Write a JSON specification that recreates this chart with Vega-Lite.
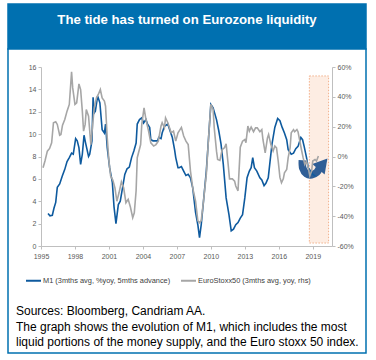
{
  "$schema": "https://vega.github.io/schema/vega-lite/v6.json",
  "background": "white",
  "padding": {"left": 7, "top": 3, "right": 0, "bottom": 0},
  "spacing": 0,
  "bounds": "flush",
  "config": {"font": "Liberation Sans", "view": {"stroke": null}},
  "datasets": {
    "m1": [
      {"year": 1995.62, "v": 2.9}, {"year": 1995.79, "v": 2.7}, {"year": 1996.0, "v": 2.75}, {"year": 1996.15, "v": 3.4},
      {"year": 1996.3, "v": 3.9}, {"year": 1996.44, "v": 5.25}, {"year": 1996.65, "v": 5.55}, {"year": 1996.88, "v": 6.25},
      {"year": 1997.1, "v": 6.85}, {"year": 1997.3, "v": 7.55}, {"year": 1997.5, "v": 7.9}, {"year": 1997.7, "v": 8.3},
      {"year": 1997.85, "v": 8.2}, {"year": 1998.06, "v": 9.6}, {"year": 1998.2, "v": 9.4}, {"year": 1998.35, "v": 8.8},
      {"year": 1998.5, "v": 7.3}, {"year": 1998.65, "v": 8.2}, {"year": 1998.8, "v": 9.9}, {"year": 1998.94, "v": 9.2},
      {"year": 1999.2, "v": 8.0}, {"year": 1999.3, "v": 8.2}, {"year": 1999.5, "v": 9.4}, {"year": 1999.6, "v": 13.3},
      {"year": 1999.7, "v": 11.9}, {"year": 1999.8, "v": 12.05}, {"year": 2000.0, "v": 13.4}, {"year": 2000.2, "v": 12.8},
      {"year": 2000.4, "v": 10.4}, {"year": 2000.6, "v": 10.1}, {"year": 2000.7, "v": 10.9}, {"year": 2000.85, "v": 8.8},
      {"year": 2001.06, "v": 7.0}, {"year": 2001.3, "v": 5.7}, {"year": 2001.45, "v": 3.5}, {"year": 2001.62, "v": 2.0},
      {"year": 2001.83, "v": 3.7}, {"year": 2002.0, "v": 4.0}, {"year": 2002.2, "v": 5.2}, {"year": 2002.4, "v": 6.4},
      {"year": 2002.6, "v": 6.9}, {"year": 2002.8, "v": 7.05}, {"year": 2003.0, "v": 7.9}, {"year": 2003.2, "v": 8.5},
      {"year": 2003.4, "v": 9.2}, {"year": 2003.5, "v": 10.9}, {"year": 2003.7, "v": 11.3}, {"year": 2003.9, "v": 11.45},
      {"year": 2004.06, "v": 11.0}, {"year": 2004.27, "v": 11.3}, {"year": 2004.4, "v": 10.9}, {"year": 2004.6, "v": 10.6},
      {"year": 2004.7, "v": 9.5}, {"year": 2004.9, "v": 9.4}, {"year": 2005.1, "v": 9.4}, {"year": 2005.3, "v": 9.4},
      {"year": 2005.4, "v": 9.7}, {"year": 2005.6, "v": 9.6}, {"year": 2005.7, "v": 10.1}, {"year": 2005.9, "v": 10.7},
      {"year": 2006.2, "v": 10.9}, {"year": 2006.3, "v": 10.6}, {"year": 2006.5, "v": 10.0}, {"year": 2006.6, "v": 9.7},
      {"year": 2006.8, "v": 8.6}, {"year": 2006.9, "v": 7.9}, {"year": 2007.1, "v": 7.0}, {"year": 2007.2, "v": 7.0},
      {"year": 2007.4, "v": 7.1}, {"year": 2007.6, "v": 6.7}, {"year": 2007.8, "v": 6.3}, {"year": 2008.0, "v": 6.4},
      {"year": 2008.2, "v": 6.1}, {"year": 2008.4, "v": 5.2}, {"year": 2008.65, "v": 3.0}, {"year": 2008.85, "v": 1.9},
      {"year": 2009.0, "v": 0.75}, {"year": 2009.15, "v": 1.9}, {"year": 2009.35, "v": 4.0}, {"year": 2009.6, "v": 6.7},
      {"year": 2009.8, "v": 9.7}, {"year": 2010.0, "v": 12.65}, {"year": 2010.2, "v": 12.35}, {"year": 2010.5, "v": 11.3},
      {"year": 2010.7, "v": 10.3}, {"year": 2010.9, "v": 9.1}, {"year": 2011.1, "v": 7.3}, {"year": 2011.35, "v": 4.3},
      {"year": 2011.6, "v": 2.8}, {"year": 2011.8, "v": 1.35}, {"year": 2012.0, "v": 1.5}, {"year": 2012.2, "v": 1.9},
      {"year": 2012.4, "v": 2.1}, {"year": 2012.6, "v": 2.5}, {"year": 2012.8, "v": 2.8}, {"year": 2013.0, "v": 4.3},
      {"year": 2013.2, "v": 6.1}, {"year": 2013.4, "v": 6.7}, {"year": 2013.56, "v": 7.0}, {"year": 2013.7, "v": 7.9},
      {"year": 2013.85, "v": 7.0}, {"year": 2014.06, "v": 6.7}, {"year": 2014.33, "v": 6.1}, {"year": 2014.5, "v": 5.9},
      {"year": 2014.7, "v": 5.4}, {"year": 2014.86, "v": 5.6}, {"year": 2015.07, "v": 6.1}, {"year": 2015.2, "v": 7.3},
      {"year": 2015.4, "v": 9.1}, {"year": 2015.65, "v": 10.6}, {"year": 2015.9, "v": 11.4}, {"year": 2016.1, "v": 11.2},
      {"year": 2016.3, "v": 10.6}, {"year": 2016.5, "v": 10.1}, {"year": 2016.7, "v": 9.5}, {"year": 2016.83, "v": 8.6},
      {"year": 2017.1, "v": 8.2}, {"year": 2017.3, "v": 8.3}, {"year": 2017.5, "v": 8.7}, {"year": 2017.7, "v": 8.9},
      {"year": 2017.95, "v": 9.7}, {"year": 2018.1, "v": 9.5}, {"year": 2018.24, "v": 8.9}, {"year": 2018.45, "v": 7.9},
      {"year": 2018.6, "v": 7.0}, {"year": 2018.8, "v": 6.7}, {"year": 2019.0, "v": 6.4}, {"year": 2019.24, "v": 6.25}
    ],
    "stoxx": [
      {"year": 1995.18, "v": -7.5}, {"year": 1995.35, "v": -3}, {"year": 1995.56, "v": 3.6}, {"year": 1995.76, "v": 5.4},
      {"year": 1995.94, "v": 9.2}, {"year": 1996.1, "v": 22.6}, {"year": 1996.3, "v": 23.3}, {"year": 1996.44, "v": 21.5},
      {"year": 1996.65, "v": 14.3}, {"year": 1996.76, "v": 14.8}, {"year": 1996.9, "v": 21}, {"year": 1997.1, "v": 24.8},
      {"year": 1997.3, "v": 30.4}, {"year": 1997.5, "v": 34.9}, {"year": 1997.7, "v": 56.7}, {"year": 1997.8, "v": 46},
      {"year": 1998.0, "v": 34.9}, {"year": 1998.15, "v": 36}, {"year": 1998.35, "v": 48.7}, {"year": 1998.5, "v": 44.9},
      {"year": 1998.65, "v": 30.4}, {"year": 1998.76, "v": 17}, {"year": 1998.9, "v": 21.5}, {"year": 1999.0, "v": 31.5},
      {"year": 1999.2, "v": 27}, {"year": 1999.4, "v": 8}, {"year": 1999.5, "v": 15.9}, {"year": 1999.7, "v": 32.6},
      {"year": 1999.9, "v": 39.3}, {"year": 2000.06, "v": 41.6}, {"year": 2000.24, "v": 44.9}, {"year": 2000.4, "v": 39.3},
      {"year": 2000.6, "v": 37.1}, {"year": 2000.7, "v": 33.7}, {"year": 2000.85, "v": 12.5}, {"year": 2001.0, "v": -3},
      {"year": 2001.15, "v": -13}, {"year": 2001.35, "v": -16}, {"year": 2001.53, "v": -21}, {"year": 2001.7, "v": -30},
      {"year": 2001.9, "v": -24}, {"year": 2002.1, "v": -17}, {"year": 2002.3, "v": -21}, {"year": 2002.5, "v": -31},
      {"year": 2002.7, "v": -28.7}, {"year": 2002.9, "v": -34}, {"year": 2003.1, "v": -41}, {"year": 2003.24, "v": -37.7},
      {"year": 2003.4, "v": -23}, {"year": 2003.5, "v": -0.8}, {"year": 2003.8, "v": 8}, {"year": 2003.9, "v": 21.5},
      {"year": 2004.1, "v": 32.6}, {"year": 2004.27, "v": 24.8}, {"year": 2004.5, "v": 17}, {"year": 2004.7, "v": 9.2},
      {"year": 2004.95, "v": 7}, {"year": 2005.15, "v": 8}, {"year": 2005.36, "v": 10.3}, {"year": 2005.6, "v": 20.4},
      {"year": 2005.7, "v": 22.6}, {"year": 2005.9, "v": 19.2}, {"year": 2006.0, "v": 25.9}, {"year": 2006.2, "v": 22.6},
      {"year": 2006.5, "v": 15.9}, {"year": 2006.7, "v": 17}, {"year": 2006.9, "v": 10.3}, {"year": 2007.1, "v": 15.9},
      {"year": 2007.4, "v": 19.5}, {"year": 2007.6, "v": 13.7}, {"year": 2007.8, "v": 10.3}, {"year": 2008.0, "v": 8},
      {"year": 2008.2, "v": -9.8}, {"year": 2008.4, "v": -21}, {"year": 2008.65, "v": -30}, {"year": 2008.85, "v": -43},
      {"year": 2009.0, "v": -44.4}, {"year": 2009.15, "v": -43}, {"year": 2009.35, "v": -30}, {"year": 2009.6, "v": -12},
      {"year": 2009.8, "v": 12.5}, {"year": 2010.0, "v": 35}, {"year": 2010.2, "v": 31.5}, {"year": 2010.3, "v": 19.2},
      {"year": 2010.5, "v": 3.6}, {"year": 2010.6, "v": -2}, {"year": 2010.8, "v": -2.6}, {"year": 2011.0, "v": 4.7},
      {"year": 2011.2, "v": 5.8}, {"year": 2011.35, "v": 8.5}, {"year": 2011.5, "v": -3}, {"year": 2011.65, "v": -15},
      {"year": 2011.9, "v": -15}, {"year": 2012.1, "v": -16.5}, {"year": 2012.2, "v": -19.8}, {"year": 2012.4, "v": -23},
      {"year": 2012.6, "v": 6.3}, {"year": 2012.8, "v": 10.3}, {"year": 2013.0, "v": 11.4}, {"year": 2013.1, "v": 9.2},
      {"year": 2013.27, "v": 20.4}, {"year": 2013.4, "v": 17}, {"year": 2013.56, "v": 19.7}, {"year": 2013.77, "v": 16.6},
      {"year": 2013.95, "v": 19.2}, {"year": 2014.1, "v": 19.2}, {"year": 2014.33, "v": 16.6}, {"year": 2014.5, "v": 18},
      {"year": 2014.6, "v": 11.4}, {"year": 2014.8, "v": 2.5}, {"year": 2015.0, "v": 12.5}, {"year": 2015.1, "v": 14.8},
      {"year": 2015.3, "v": 8}, {"year": 2015.5, "v": 3.6}, {"year": 2015.65, "v": 7}, {"year": 2015.8, "v": 5.8},
      {"year": 2015.95, "v": -3}, {"year": 2016.1, "v": -14}, {"year": 2016.24, "v": -17.6}, {"year": 2016.4, "v": -15},
      {"year": 2016.5, "v": -10.9}, {"year": 2016.7, "v": -8.7}, {"year": 2016.83, "v": -0.8}, {"year": 2017.0, "v": 5.8},
      {"year": 2017.1, "v": 15.9}, {"year": 2017.3, "v": 18}, {"year": 2017.4, "v": 16.6}, {"year": 2017.6, "v": 18},
      {"year": 2017.7, "v": 16.6}, {"year": 2017.86, "v": 10.3}, {"year": 2018.0, "v": 4.7}, {"year": 2018.15, "v": -0.8},
      {"year": 2018.3, "v": -5.3}, {"year": 2018.45, "v": -3}, {"year": 2018.6, "v": -7.5}, {"year": 2018.74, "v": -13},
      {"year": 2018.9, "v": -9.8}, {"year": 2019.0, "v": -3}, {"year": 2019.2, "v": -2}, {"year": 2019.33, "v": -3},
      {"year": 2019.5, "v": 0.3}
    ],
    "zone": [{"year": 2018.7, "year2": 2020.4, "v": -58, "v2": 54}],
    "arrow": [
      {"year": 2018.08, "v": -2.5}, {"year": 2018.12, "v": -7.8}, {"year": 2018.45, "v": -11.6},
      {"year": 2018.92, "v": -12.3}, {"year": 2019.36, "v": -10.6}, {"year": 2019.6, "v": -7.6}
    ],
    "arrowhead": [{"year": 2019.9, "v": -5.0}]
  },
  "vconcat": [
    {
      "width": 358,
      "height": 45,
      "view": {"fill": "#0070B0", "stroke": "#0070B0", "strokeWidth": 1.5},
      "data": {"values": [{"title": "The tide has turned on Eurozone liquidity"}]},
      "mark": {"type": "text", "color": "white", "fontSize": 13.2, "fontWeight": "bold", "font": "Liberation Sans", "dy": -7},
      "encoding": {"text": {"field": "title", "type": "nominal"}}
    },
    {
      "width": 358,
      "height": 304,
      "view": {"fill": "white", "stroke": "#0070B0", "strokeWidth": 1.5},
      "title": {
        "text": ["Sources: Bloomberg, Candriam AA.", "The graph shows the evolution of M1, which includes the most", "liquid portions of the money supply, and the Euro stoxx 50 index."],
        "orient": "bottom", "anchor": "start", "offset": -47, "dx": 8,
        "fontSize": 12, "font": "Liberation Sans", "fontWeight": "normal", "color": "#000000", "lineHeight": 15.5
      },
      "layer": [
        {
          "data": {"name": "zone"},
          "mark": {"type": "rect", "fill": "#FDEDE3", "stroke": "#F2B08A", "strokeWidth": 1, "strokeDash": [1.5, 1.5]},
          "encoding": {
            "x": {"field": "year", "type": "quantitative", "scale": {"domain": [1995, 2020.7], "range": [33, 324], "nice": false, "zero": false}},
            "x2": {"field": "year2"},
            "y": {"field": "v", "type": "quantitative", "axis": null, "scale": {"domain": [-60, 60], "range": [197, 18], "nice": false, "zero": false}},
            "y2": {"field": "v2"}
          }
        },
        {
          "data": {"name": "arrow"},
          "mark": {"type": "line", "color": "#2F5E96", "strokeWidth": 7.5, "strokeCap": "butt", "interpolate": "cardinal"},
          "encoding": {
            "x": {"field": "year", "type": "quantitative", "scale": {"domain": [1995, 2020.7], "range": [33, 324], "nice": false, "zero": false}},
            "y": {"field": "v", "type": "quantitative", "axis": null, "scale": {"domain": [-60, 60], "range": [197, 18], "nice": false, "zero": false}}
          }
        },
        {
          "data": {"name": "arrowhead"},
          "mark": {"type": "point", "shape": "triangle-up", "filled": true, "color": "#2F5E96", "opacity": 1, "size": 260, "angle": 40},
          "encoding": {
            "x": {"field": "year", "type": "quantitative", "scale": {"domain": [1995, 2020.7], "range": [33, 324], "nice": false, "zero": false}},
            "y": {"field": "v", "type": "quantitative", "axis": null, "scale": {"domain": [-60, 60], "range": [197, 18], "nice": false, "zero": false}}
          }
        },
        {
          "data": {"name": "m1"},
          "mark": {"type": "line", "strokeWidth": 1.6},
          "encoding": {
            "x": {
              "field": "year", "type": "quantitative",
              "scale": {"domain": [1995, 2020.7], "range": [33, 324], "nice": false, "zero": false},
              "axis": {"orient": "bottom", "offset": -107, "title": null, "values": [1995, 1998, 2001, 2004, 2007, 2010, 2013, 2016, 2019], "format": "d", "grid": false, "labelFlush": false, "labelOverlap": false, "domainColor": "#BFBFBF", "tickColor": "#BFBFBF", "tickSize": 3, "labelPadding": 3, "labelFontSize": 7, "labelColor": "#595959", "labelFont": "Liberation Sans"}
            },
            "y": {
              "field": "v", "type": "quantitative",
              "scale": {"domain": [0, 16], "range": [197, 18], "nice": false, "zero": false},
              "axis": {"orient": "left", "offset": -33, "title": null, "values": [0, 2, 4, 6, 8, 10, 12, 14, 16], "grid": false, "labelFlush": false, "labelOverlap": false, "domainColor": "#BFBFBF", "tickColor": "#BFBFBF", "tickSize": 3, "labelPadding": 2, "labelFontSize": 7, "labelColor": "#595959", "labelFont": "Liberation Sans"}
            },
            "color": {
              "datum": "M1 (3mths avg, %yoy, 5mths advance)", "type": "nominal",
              "scale": {"domain": ["M1 (3mths avg, %yoy, 5mths advance)", "EuroStoxx50 (3mths avg, yoy, rhs)"], "range": ["#0E5A9E", "#A6A6A6"]},
              "legend": {"orient": "none", "legendX": 17, "legendY": 268, "direction": "horizontal", "title": null, "symbolType": "stroke", "symbolSize": 225, "symbolStrokeWidth": 2, "labelFontSize": 7.4, "labelColor": "#404040", "labelFont": "Liberation Sans", "columnPadding": 6, "labelOffset": 1, "padding": 0, "labelLimit": 300}
            }
          }
        },
        {
          "data": {"name": "stoxx"},
          "mark": {"type": "line", "strokeWidth": 1.6},
          "encoding": {
            "x": {"field": "year", "type": "quantitative", "scale": {"domain": [1995, 2020.7], "range": [33, 324], "nice": false, "zero": false}},
            "y": {
              "field": "v", "type": "quantitative",
              "scale": {"domain": [-60, 60], "range": [197, 18], "nice": false, "zero": false},
              "axis": {"orient": "right", "offset": -34, "title": null, "values": [-60, -40, -20, 0, 20, 40, 60], "labelExpr": "datum.value + '%'", "grid": false, "labelFlush": false, "labelOverlap": false, "domainColor": "#BFBFBF", "tickColor": "#BFBFBF", "tickSize": 3, "labelPadding": 2, "labelFontSize": 7, "labelColor": "#595959", "labelFont": "Liberation Sans"}
            },
            "color": {"datum": "EuroStoxx50 (3mths avg, yoy, rhs)", "type": "nominal"}
          }
        }
      ],
      "resolve": {"scale": {"y": "independent"}}
    }
  ]
}
